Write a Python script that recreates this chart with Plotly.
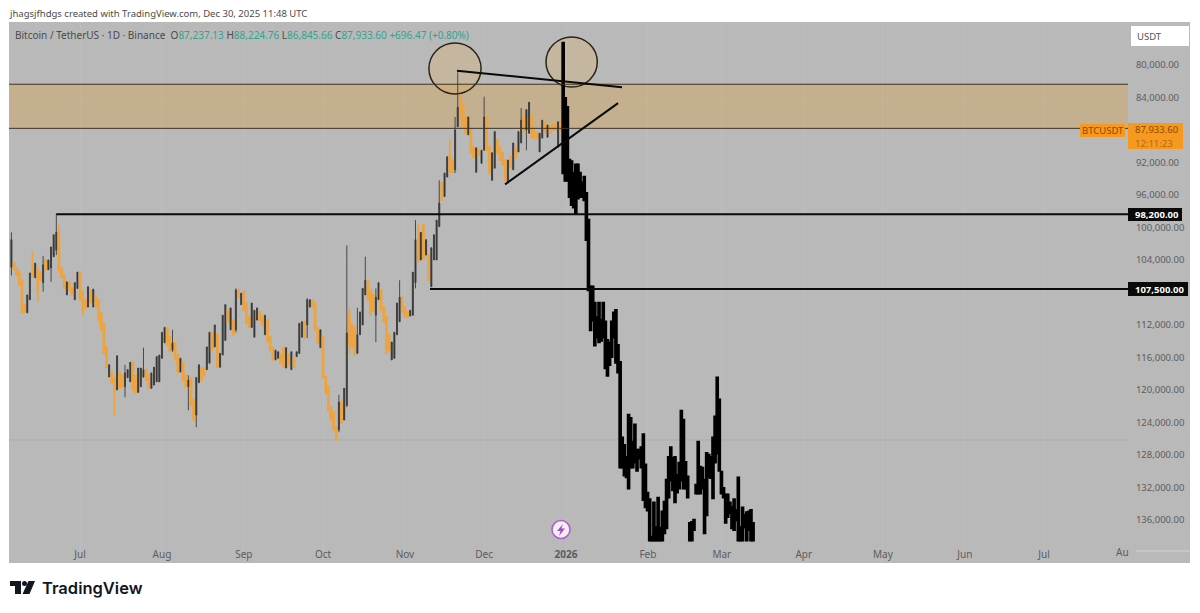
import numpy as np
import pandas as pd
import plotly.graph_objects as go

# ---- daily candles, in thousands of USDT, first candle 2025-06-05 ----
opens = [
104.9,104.4,105.0,105.5,106.5,109.5,110.5,108.9,105.0,106.2,
105.2,105.5,106.8,104.0,105.2,105.0,103.6,102.8,100.9,105.0,
105.9,108.3,106.8,107.5,108.9,107.5,105.5,107.9,108.9,109.8,
107.7,109.8,108.4,108.9,110.5,111.8,114.7,118.4,117.8,118.5,
120.0,117.8,118.2,119.6,118.5,119.0,116.6,118.2,120.3,119.6,
118.4,117.5,118.2,119.8,119.4,119.0,119.0,116.1,114.2,112.4,
113.5,115.1,114.2,115.7,117.8,116.6,118.2,119.6,118.5,121.2,
123.1,119.1,117.3,117.3,117.5,116.7,112.9,114.7,113.2,117.2,
115.7,113.9,110.2,112.6,111.4,112.6,107.7,109.5,107.9,109.3,
111.0,112.3,113.5,111.4,110.4,110.9,113.2,111.4,113.5,114.8,
116.3,116.1,115.7,114.8,117.3,115.7,117.5,116.1,115.9,115.5,
113.5,111.6,112.0,109.8,108.9,109.3,112.4,114.8,113.5,118.4,
119.6,122.1,122.8,124.6,124.9,121.5,123.7,121.9,110.8,112.0,
112.3,115.5,113.2,112.0,108.3,106.5,107.7,108.3,110.8,108.9,
107.7,109.8,111.0,113.2,116.3,116.1,113.2,111.6,108.6,109.8,
110.4,110.9,110.8,106.8,101.5,104.0,99.7,103.4,103.4,107.3,
104.0,104.0,99.9,94.5,96.2,93.8,91.1,91.7,92.9,87.6,
83.7,84.9,86.4,88.6,88.0,90.1,93.2,90.5,92.1,90.5,
86.4,90.1,94.2,92.7,89.2,90.1,90.8,91.7,94.5,91.3,
92.9,90.2,90.7,89.6,86.4,88.0,88.4,86.4,88.0,88.4,
90.7,89.0,87.1,88.9,87.6,87.4,87.4,90.1,87.237]
closes = [
101.5,105.2,105.9,107.1,110.5,110.4,108.3,105.6,106.1,104.4,
107.7,106.5,104.6,105.2,104.0,102.4,100.9,100.6,105.2,106.1,
107.5,106.7,107.7,108.3,106.8,105.5,108.9,110.2,109.9,107.3,
109.2,107.6,109.8,111.4,112.6,115.5,117.2,116.9,119.1,120.0,
115.8,119.8,119.6,117.9,117.5,116.6,120.0,120.3,117.3,117.3,
117.5,118.8,119.8,117.9,117.2,115.9,115.7,112.9,112.3,114.5,
115.3,114.2,116.3,117.8,116.1,118.8,119.6,118.8,121.9,123.7,
118.5,116.9,118.8,118.2,114.7,112.9,115.1,112.0,117.2,115.5,
110.8,109.5,111.6,109.9,113.2,107.7,108.6,108.1,110.2,111.8,
112.3,109.3,110.2,109.9,111.4,112.0,110.8,114.1,115.1,116.3,
115.1,115.3,116.6,117.2,114.8,116.9,115.3,117.2,115.3,111.8,
111.6,113.6,108.9,108.9,109.8,112.6,114.2,112.6,118.5,120.4,
122.5,123.7,124.9,126.2,121.5,124.1,119.8,113.0,114.5,114.8,
115.7,113.2,110.4,107.5,106.5,108.9,110.8,110.2,108.6,106.8,
110.2,111.6,115.5,115.1,114.1,112.9,109.3,108.6,110.4,111.0,
111.0,110.2,105.5,101.5,104.0,100.6,103.8,101.5,106.5,102.5,
100.9,99.1,97.0,96.6,93.3,91.3,93.2,93.2,88.0,85.2,
86.4,87.6,88.4,86.4,90.8,91.4,90.2,91.1,90.5,86.4,
90.5,93.3,90.8,88.2,90.8,91.7,92.3,94.2,91.7,92.6,
89.6,91.4,88.2,86.8,88.2,85.5,84.6,88.9,89.0,89.0,
88.4,86.8,88.4,87.4,88.4,88.0,88.0,87.0,87.934]
lows = [
100.6,104.4,105.0,105.5,106.5,109.5,108.3,105.6,103.0,104.4,
105.0,105.5,103.5,104.0,104.0,102.4,100.9,98.3,99.7,105.0,
105.9,106.7,106.8,107.5,106.8,105.5,105.5,107.9,108.9,107.3,
107.7,107.6,108.4,108.9,110.5,111.8,114.7,116.9,117.8,118.5,
115.8,117.8,118.2,116.9,117.5,116.6,116.6,118.2,117.3,117.3,
114.8,117.5,118.2,117.9,117.2,115.9,115.7,112.9,112.3,112.4,
113.5,112.6,114.2,115.7,116.1,116.6,118.2,118.2,118.5,121.2,
118.4,116.9,117.3,117.3,114.7,112.9,112.9,112.0,113.2,115.5,
110.8,109.5,110.2,109.9,111.4,107.5,107.7,108.1,107.9,109.3,
111.0,109.3,110.2,109.9,110.4,110.9,110.8,111.4,113.5,114.8,
115.1,115.3,115.7,114.8,114.8,115.7,115.3,116.1,115.3,111.8,
111.6,111.6,108.7,108.9,108.9,109.3,112.4,112.6,113.5,118.4,
119.6,122.1,122.8,124.6,120.6,121.5,119.8,102.2,109.8,112.0,
112.3,109.9,110.4,107.5,103.6,106.5,107.7,108.3,107.5,106.8,
107.7,109.8,111.0,113.2,114.1,112.9,109.3,106.5,108.6,109.8,
110.4,110.2,105.5,99.1,99.5,100.6,99.7,101.5,103.4,102.5,
100.9,99.1,94.2,94.5,93.3,91.3,89.2,91.7,86.4,80.9,
83.7,84.9,86.4,86.4,88.0,90.1,90.2,90.5,90.5,83.9,
86.4,90.1,90.8,88.2,89.2,90.1,90.8,91.7,91.7,91.3,
89.6,90.2,88.2,85.3,86.4,85.5,84.6,86.4,88.0,88.4,
88.4,86.8,87.1,87.4,87.6,87.4,87.4,87.0,86.846]
highs = [
105.9,105.2,105.9,107.1,110.5,110.4,110.5,108.9,106.1,106.2,
109.2,106.5,107.9,105.2,105.2,106.7,103.6,103.4,105.6,106.1,
107.5,108.3,107.7,108.3,108.9,107.5,108.9,110.8,109.9,109.8,
109.2,109.8,109.8,111.4,112.6,115.5,117.2,118.4,119.1,123.1,
120.0,119.8,119.6,120.9,118.5,119.0,120.0,120.3,120.3,119.6,
118.5,118.8,119.8,119.8,119.4,119.0,119.0,116.1,114.2,114.5,
115.3,115.3,116.3,117.8,117.8,118.8,119.6,122.5,121.9,123.7,
124.6,119.1,118.8,118.2,117.5,116.7,115.1,114.7,117.2,117.2,
115.7,113.9,111.6,112.6,113.2,112.9,108.6,109.5,110.2,111.8,
112.3,112.3,113.5,111.4,111.4,112.0,113.2,114.1,115.1,116.3,
116.3,116.1,116.6,117.2,117.3,116.9,117.5,117.2,115.9,115.5,
113.5,113.6,113.6,109.8,109.8,112.6,114.2,114.8,118.5,120.4,
122.5,123.7,124.9,126.2,125.2,124.1,123.7,122.1,115.5,114.8,
115.7,115.5,113.2,112.0,108.3,108.9,110.8,110.2,114.1,108.9,
110.2,111.6,115.5,115.1,116.3,116.1,113.2,111.6,110.4,111.0,
111.0,110.9,110.8,107.5,104.3,104.0,103.8,103.4,106.5,107.3,
104.0,104.0,99.9,96.6,96.2,93.8,93.2,93.2,93.3,87.6,
86.4,87.6,88.4,88.6,90.8,91.4,93.2,91.1,92.1,90.5,
90.5,93.3,94.2,92.7,90.8,91.7,92.3,94.2,94.5,92.6,
92.9,91.4,90.7,89.6,88.2,90.5,88.4,88.9,89.0,89.0,
90.7,89.0,88.4,88.9,88.4,88.0,88.0,90.1,88.225]

# ---- drawn projection bars (thousands of USDT) ----
bar_lows = [
77.3,84.1,85.2,91.7,91.9,93.3,92.3,92.3,93.3,94.5,93.8,95.8,99.1,107.3,107.3,109.3,111.1,109.3,111.4,109.3,
111.6,113.9,114.2,111.6,110.5,110.2,114.5,116.6,125.9,126.8,128.3,123.1,123.5,126.4,124.3,127.4,127.4,127.1,125.5,129.2,
132.7,133.5,138.1,133.9,136.9,133.3,137.0,135.0,133.8,131.1,128.3,127.1,128.4,128.3,130.5,129.0,122.6,123.7,128.9,130.7,
136.4,136.3,136.0,131.7,126.4,129.5,129.6,131.1,127.8,128.0,128.3,125.9,123.3,118.5,121.2,130.1,132.1,132.9,132.9,133.9,
134.4,133.5,134.8,130.8,136.9,134.5,135.4,135.1,135.0,134.8,136.4]
bar_highs = [
93.3,94.2,94.2,96.2,97.2,97.5,98.2,96.4,96.2,96.2,96.6,101.5,107.7,112.6,111.4,114.5,113.5,114.1,113.9,113.5,
117.3,118.2,116.9,115.9,113.5,116.6,117.8,129.5,129.5,130.5,130.7,132.1,129.5,129.5,128.9,129.9,128.4,129.5,133.5,134.4,
134.8,138.5,138.5,138.5,138.5,138.5,138.5,138.5,137.6,137.0,133.2,131.1,132.3,133.8,132.6,132.1,131.1,132.1,132.1,133.2,
138.5,138.5,137.2,132.7,132.7,132.7,132.1,137.6,135.4,130.7,130.8,133.3,128.9,127.8,129.9,132.7,133.2,136.3,135.6,135.1,
137.0,137.2,136.0,138.5,138.5,138.5,136.9,138.5,137.2,138.5,138.5]

first_day = "2025-06-05"
bars_first = "2025-12-30 22:00"
bars_last = "2026-03-12 20:00"

y_tick_vals = [80000,84000,92000,96000,100000,104000,112000,116000,120000,124000,128000,132000,136000]
y_tick_text = ["80,000.00","84,000.00","92,000.00","96,000.00","100,000.00","104,000.00","112,000.00",
               "116,000.00","120,000.00","124,000.00","128,000.00","132,000.00","136,000.00"]
x_tick_vals = ["2025-07-01","2025-08-01","2025-09-01","2025-10-01","2025-11-01","2025-12-01","2026-01-01",
               "2026-02-01","2026-03-01","2026-04-01","2026-05-01","2026-06-01","2026-07-01"]
x_tick_text = ["Jul","Aug","Sep","Oct","Nov","Dec","<b>2026</b>","Feb","Mar","Apr","May","Jun","Jul"]

zone_low, zone_high = 82370, 87800
levels = [(98370, "2025-06-22"), (107580, "2025-11-10 12:00")]
grid_price = 126150
x_range = ["2025-06-04 02:00", "2026-08-01 19:00"]
y_range = [141300, 74710]

W, H = 1200, 613
L, R, T, B = 9, 1128, 22, 563
def fx(x): return (x - L) / (R - L)
def fy(y): return (B - y) / (B - T)

dates = pd.date_range(first_day, periods=len(opens), freq="D")
bar_dates = pd.date_range(bars_first, bars_last, periods=len(bar_lows))
K = 1000.0
ORANGE = "#eea33c"

fig = go.Figure()
fig.add_trace(go.Candlestick(
    x=dates, open=np.array(opens)*K, high=np.array(highs)*K, low=np.array(lows)*K, close=np.array(closes)*K,
    increasing=dict(line=dict(color=ORANGE, width=1.7), fillcolor=ORANGE),
    decreasing=dict(line=dict(color="#3c3c3c", width=0.9), fillcolor="#262626"),
    showlegend=False, hoverinfo="skip"))
fig.add_trace(go.Candlestick(
    x=bar_dates, open=np.array(bar_highs)*K, high=np.array(bar_highs)*K, low=np.array(bar_lows)*K, close=np.array(bar_lows)*K,
    decreasing=dict(line=dict(color="#000000", width=2.6), fillcolor="#000000"),
    increasing=dict(line=dict(color="#000000", width=2.6), fillcolor="#000000"),
    showlegend=False, hoverinfo="skip"))

shapes = []
BG = "#b9b9b9"
# background strip behind the price scale
shapes.append(dict(type="rect", xref="paper", yref="paper", x0=fx(R), x1=fx(1190), y0=0, y1=1,
                   fillcolor=BG, line_width=0, layer="below"))
shapes.append(dict(type="line", xref="paper", yref="paper", x0=fx(1136), x1=fx(1190), y0=fy(551), y1=fy(551),
                   line=dict(color="#d4d4d4", width=1), layer="below"))
shapes.append(dict(type="line", xref="paper", yref="y", x0=0, x1=1, y0=grid_price, y1=grid_price,
                   line=dict(color="#adadad", width=1), layer="below"))
# supply zone
shapes.append(dict(type="rect", xref="paper", yref="y", x0=0, x1=1, y0=zone_low, y1=zone_high,
                   fillcolor="rgba(233,149,21,0.25)", line_width=0, layer="below"))
for z in (zone_low, zone_high):
    shapes.append(dict(type="line", xref="paper", yref="y", x0=0, x1=1, y0=z, y1=z,
                       line=dict(color="#3c3325", width=1), layer="above"))
# horizontal levels
for p, start in levels:
    shapes.append(dict(type="line", xref="x", yref="y", x0=start, x1=x_range[1], y0=p, y1=p,
                       line=dict(color="#0a0a0a", width=2), layer="above"))
# circles, under the candles
for x0, x1, y0, y1 in [("2025-11-10 02:00","2025-11-29 20:00",77290,83570),
                       ("2025-12-24 10:00","2026-01-12 20:00",76550,82710)]:
    shapes.append(dict(type="circle", xref="x", yref="y", x0=x0, x1=x1, y0=y0, y1=y1,
                       fillcolor="rgba(245,170,60,0.2)", line=dict(color="#2a2418", width=1.5), layer="below"))
# trend lines
for x0, y0, x1, y1 in [("2025-11-20 17:00",80700,"2026-01-22 05:00",82740),
                       ("2025-12-08 22:00",94700,"2026-01-20 17:00",84700)]:
    shapes.append(dict(type="line", xref="x", yref="y", x0=x0, x1=x1, y0=y0, y1=y1,
                       line=dict(color="#0a0a0a", width=2), layer="above"))
# USDT button
shapes.append(dict(type="rect", xref="paper", yref="paper", x0=fx(1131), x1=fx(1189), y0=fy(46), y1=fy(26),
                   fillcolor="#ffffff", line_width=0, layer="above"))
# price tags
shapes.append(dict(type="rect", xref="paper", yref="paper", x0=fx(1128), x1=fx(1183), y0=fy(149), y1=fy(123),
                   fillcolor="#f7991f", line_width=0, layer="above"))
shapes.append(dict(type="rect", xref="paper", yref="paper", x0=fx(1080), x1=fx(1125), y0=fy(137), y1=fy(124),
                   fillcolor="#f7991f", line_width=0, layer="above"))
shapes.append(dict(type="rect", xref="paper", yref="paper", x0=fx(1128), x1=fx(1182), y0=fy(221), y1=fy(208),
                   fillcolor="#0a0a0a", line_width=0, layer="above"))
shapes.append(dict(type="rect", xref="paper", yref="paper", x0=fx(1128), x1=fx(1188), y0=fy(296), y1=fy(282),
                   fillcolor="#0a0a0a", line_width=0, layer="above"))
# event icon
shapes.append(dict(type="circle", xref="paper", yref="paper", x0=fx(552), x1=fx(570), y0=fy(538.5), y1=fy(520.5),
                   fillcolor="#f4eef6", line=dict(color="#b25fcb", width=1.6), layer="above"))
def poly(pts):
    return "M" + " L".join(f"{fx(a):.5f},{fy(b):.5f}" for a, b in pts) + " Z"
shapes.append(dict(type="path", xref="paper", yref="paper",
                   path=poly([(563,524),(557,531),(560.5,531),(559,536),(565,528.5),(561.5,528.5)]),
                   fillcolor="#a44fc0", line_width=0, layer="above"))
# TradingView logo
shapes.append(dict(type="path", xref="paper", yref="paper",
                   path=poly([(10,581),(21,581),(21,594),(15,594),(15,586),(10,586)]),
                   fillcolor="#131722", line_width=0))
shapes.append(dict(type="circle", xref="paper", yref="paper", x0=fx(22), x1=fx(27), y0=fy(586), y1=fy(581),
                   fillcolor="#131722", line_width=0))
shapes.append(dict(type="path", xref="paper", yref="paper",
                   path=poly([(28.5,581),(35,581),(29.5,594),(22.5,594)]),
                   fillcolor="#131722", line_width=0))

FONT = "Noto Sans"
def note(x, y, text, size=9.5, color="#555555", anchor="left", **kw):
    return dict(xref="paper", yref="paper", x=fx(x), y=fy(y), text=text, showarrow=False,
                xanchor=anchor, yanchor="middle", align=anchor,
                font=dict(family=kw.pop("family", FONT), size=size, color=color, **kw))

G = "#2fa48f"
def val(t): return f"<span style='color:{G}'>{t}</span>"
annotations = [
    note(7, 13, "jhagsjfhdgs created with TradingView.com, Dec 30, 2025 11:48 UTC", color="#4a4a4a"),
    note(13, 35, "Bitcoin / TetherUS · 1D · Binance  O" + val("87,237.13") + " H" + val("88,224.76")
         + " L" + val("86,845.66") + " C" + val("87,933.60") + " " + val("+696.47 (+0.80%)"), size=10, color="#4a4a4a"),
    note(1135, 36, "USDT", color="#555555"),
    note(1103, 130.5, "BTCUSDT", color="#8a4a00", anchor="center"),
    note(1133, 129.5, "87,933.60", color="#8a4a00"),
    note(1133, 143, "12:11:23", color="#b06a10"),
    note(1133, 214.5, "<b>98,200.00</b>", color="#ffffff"),
    note(1133, 289, "<b>107,500.00</b>", color="#ffffff"),
    note(1122, 552, "Au", size=10, color="#5c5c5c", anchor="center"),
    note(40, 588, "TradingView", size=16.5, color="#131722", family="Inter", weight=600),
]

fig.update_layout(
    width=W, height=H, margin=dict(l=L, r=W-R, t=T, b=H-B),
    paper_bgcolor="#ffffff", plot_bgcolor=BG,
    shapes=shapes, annotations=annotations, showlegend=False,
    font=dict(family=FONT, size=10, color="#5c5c5c"),
    xaxis=dict(type="date", range=x_range, rangeslider=dict(visible=False), tickmode="array",
               tickvals=x_tick_vals, ticktext=x_tick_text, ticklabelposition="inside", ticks="",
               showgrid=True, gridcolor="rgba(255,255,255,0.06)", gridwidth=1, zeroline=False, showline=False,
               tickfont=dict(family=FONT, size=10, color="#5c5c5c")),
    yaxis=dict(range=y_range, side="right", tickmode="array", tickvals=y_tick_vals, ticktext=y_tick_text,
               ticks="outside", ticklen=5, tickcolor=BG, showgrid=True, gridcolor="rgba(255,255,255,0.03)", zeroline=False,
               showline=False, tickfont=dict(family=FONT, size=9.5, color="#5c5c5c")),
)
fig.write_html("out.html", config=dict(displayModeBar=False),
               post_script="document.body.style.margin='0';")
